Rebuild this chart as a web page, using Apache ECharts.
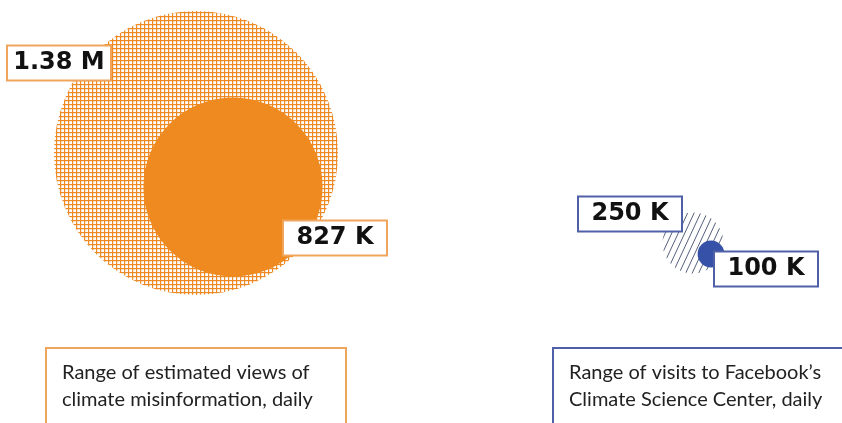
<!DOCTYPE html>
<html><head><meta charset="utf-8">
<script src="https://cdn.jsdelivr.net/npm/echarts@6/dist/echarts.min.js"></script>
<style>html,body{margin:0;padding:0;background:#fff}#c{width:842px;height:423px}</style>
</head><body><div id="c"></div>
<script>
// ---- data ----
const categories = ['Range of estimated views of\nclimate misinformation, daily', 'Range of visits to Facebook\u2019s\nClimate Science Center, daily'];
const maxValues = [1380000, 250000];
const minValues = [827000, 100000];

// ---- styles ----
const ORANGE = '#EE8A1F';
const ORANGE_BORDER = '#F0A55C';
const BLUE = '#3552A8';
const BLUE_BORDER = '#5060A8';

function gridPattern(color) {
  const c = document.createElement('canvas');
  c.width = 4; c.height = 4;
  const g = c.getContext('2d');
  g.fillStyle = '#fff'; g.fillRect(0, 0, 4, 4);
  g.fillStyle = color;
  g.fillRect(0, 0, 4, 1.2);
  g.fillRect(0, 0, 1.2, 4);
  return c;
}
function diagPattern(color) {
  const w = 6.5, h = 14;
  const c = document.createElement('canvas');
  c.width = 13; c.height = 14;
  const g = c.getContext('2d');
  g.strokeStyle = color; g.lineWidth = 1;
  for (let x0 = -w; x0 <= 13; x0 += w) {
    g.beginPath(); g.moveTo(x0, h); g.lineTo(x0 + w, 0); g.stroke();
  }
  return c;
}

function fmt(v) {
  return v >= 1e6 ? (v / 1e6).toFixed(2) + ' M' : Math.round(v / 1000) + ' K';
}
// radius from value
function radius(v) { return 142 * Math.pow(v / maxValues[0], 0.9); }

const panelColors = [
  { fill: ORANGE, border: ORANGE_BORDER, hatch: { image: gridPattern('#EE8A26'), repeat: 'repeat' } },
  { fill: BLUE, border: BLUE_BORDER, hatch: { image: diagPattern('#56607C'), repeat: 'repeat' } }
];
const panelShift = [[0, 0], [0, 90]];
const innerShift = [[37, 34], [18, 11]];
const maxLabelOffset = [[-137, -90], [-63, -29]];
const minLabelOffset = [[102, 51], [55, 15]];

function makeRender(isMax) {
  return function (params, api) {
    const i = api.value(0);
    const v = api.value(2);
    const p = api.coord([i, api.value(1)]);
    let cx = p[0] + panelShift[i][0], cy = p[1] + panelShift[i][1];
    if (!isMax) { cx += innerShift[i][0]; cy += innerShift[i][1]; }
    const off = isMax ? maxLabelOffset[i] : minLabelOffset[i];
    return {
      type: 'group',
      children: [
        { type: 'circle', shape: { cx: cx, cy: cy, r: radius(v) },
          style: { fill: isMax ? panelColors[i].hatch : panelColors[i].fill } },
        { type: 'text', x: cx + off[0], y: cy + off[1], z2: 10,
          style: {
            text: fmt(v), font: 'bold 24px "DejaVu Sans"', fill: '#111',
            align: 'center', verticalAlign: 'middle',
            width: 84, lineHeight: 21, padding: [6, 9],
            backgroundColor: '#fff', borderColor: panelColors[i].border, borderWidth: 2
          } }
      ]
    };
  };
}

const chart = echarts.init(document.getElementById('c'), null, { renderer: 'canvas' });
chart.setOption({
  backgroundColor: '#fff',
  animation: false,
  grid: { left: 196, right: 149, top: 53, bottom: 170 },
  xAxis: { type: 'category', data: categories, boundaryGap: false, show: false },
  yAxis: { type: 'value', min: -1, max: 1, show: false },
  series: [
    { type: 'custom', z: 1, renderItem: makeRender(true),
      data: maxValues.map((v, i) => [i, 0, v]) },
    { type: 'custom', z: 2, renderItem: makeRender(false),
      data: minValues.map((v, i) => [i, 0, v]) }
  ],
  graphic: categories.map((t, i) => ({
    type: 'group', left: i === 0 ? 45 : 552, top: 347,
    children: [
      { type: 'rect', shape: { x: 0, y: 0, width: 300, height: 90 },
        style: { fill: '#fff', stroke: panelColors[i].border, lineWidth: 2 } },
      { type: 'text', x: 16, y: 11,
        style: { text: t, fill: '#222', font: '20px Lato', lineHeight: 27 } }
    ]
  }))
});
</script></body></html>
